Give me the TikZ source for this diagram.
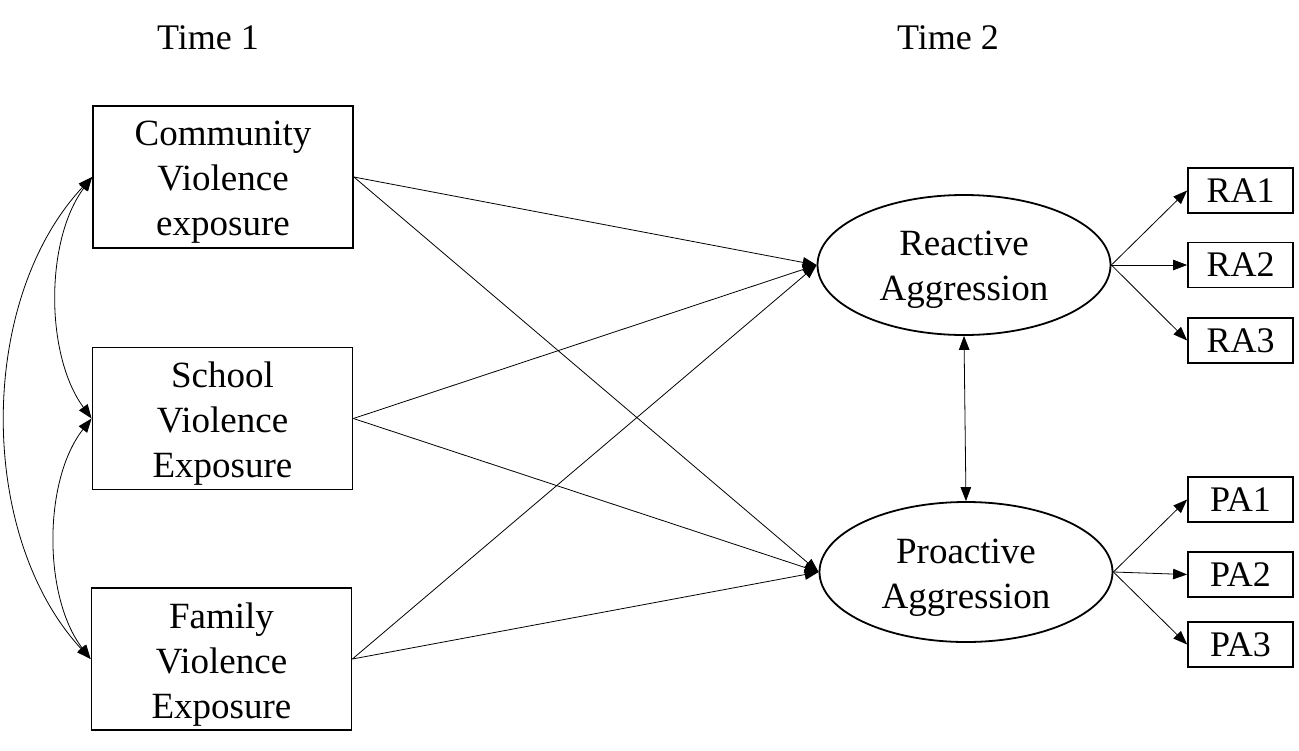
\documentclass[tikz,border=0pt]{standalone}
\usepackage{fontspec}
\setmainfont{Liberation Serif}
\usetikzlibrary{arrows.meta,shapes.geometric}
\begin{document}
\begin{tikzpicture}[x=1pt,y=-1pt,
  bigbox/.style={draw,line width=1.8pt,minimum width=260pt,minimum height=142pt,inner sep=0pt},
  boxtext/.style={align=center,inner sep=0pt,yshift=-5pt,font=\fontsize{37}{45}\selectfont},
  smallbox/.style={draw,line width=1.8pt,minimum width=105pt,minimum height=45pt,inner sep=0pt,font=\fontsize{36}{43}\selectfont},
  latent/.style={draw,ellipse,line width=1.8pt,minimum width=293pt,minimum height=140pt,inner sep=0pt},
  lbl/.style={font=\fontsize{36}{43}\selectfont},
  tip/.style={Triangle[length=14pt,width=10.5pt]},
  path/.style={line width=0.8pt,-{Triangle[length=14pt,width=10.5pt]}},
  cov/.style={line width=0.8pt,{Triangle[length=14pt,width=10.5pt]}-{Triangle[length=14pt,width=10.5pt]}}
]
\useasboundingbox (0,0) rectangle (1299,750);
\node[lbl] (t1) at (208,38) {Time 1};
\node[lbl] (t2) at (948,38) {Time 2};
\node[bigbox,label={[boxtext]center:Community\\Violence\\exposure}] (cv) at (223,177) {};
\node[bigbox,label={[boxtext]center:School\\Violence\\Exposure}] (sv) at (222.5,418.5) {};
\node[bigbox,label={[boxtext,yshift=-0.5pt]center:Family\\Violence\\Exposure}] (fv) at (221.5,659) {};
\node[latent,label={[boxtext]center:Reactive\\Aggression}] (ra) at (964,265) {};
\node[latent,label={[boxtext,yshift=-1pt]center:Proactive\\Aggression}] (pa) at (966,572) {};
\node[smallbox] (ra1) at (1240.5,190.5) {RA1};
\node[smallbox] (ra2) at (1240.5,265) {RA2};
\node[smallbox] (ra3) at (1240.5,340.5) {RA3};
\node[smallbox] (pa1) at (1240.5,499.5) {PA1};
\node[smallbox] (pa2) at (1240.5,574.5) {PA2};
\node[smallbox] (pa3) at (1240.5,644.5) {PA3};
% regressions
\foreach \s in {cv,sv,fv}{
  \draw[path] (\s.east) -- (ra.west);
  \draw[path] (\s.east) -- (pa.west);
}
% indicators
\foreach \i in {ra1,ra2,ra3}{\draw[path] (ra.east) -- (\i.west);}
\foreach \i in {pa1,pa2,pa3}{\draw[path] (pa.east) -- (\i.west);}
% latent covariance
\draw[cov] (ra.south) -- (pa.north);
% exogenous covariances
\draw[cov] (cv.west) .. controls (45,240) and (45,355) .. (sv.west);
\draw[cov] (sv.west) .. controls (43,480) and (43,597) .. (fv.west);
\draw[cov] (cv.west) .. controls (-23,300) and (-23,536) .. (fv.west);
\end{tikzpicture}
\end{document}
